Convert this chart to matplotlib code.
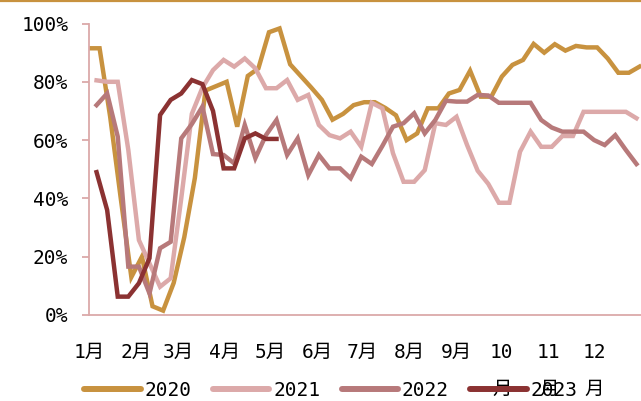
import matplotlib
matplotlib.use("Agg")
import matplotlib.pyplot as plt
from matplotlib.lines import Line2D
import numpy as np

plt.rcParams['font.family'] = ['DejaVu Sans Mono', 'Noto Sans CJK SC']

# ---- data (weekly values, %) ----
years = ["2020", "2021", "2022", "2023"]
start_day = [0, 5, 5, 5]  # day-of-year of first weekly point

v2020 = [91.5, 91.5, 68, 40, 13, 20, 3, 1.5, 11, 26.7, 47, 77, 78.5, 80, 64.6,
         82, 84.6, 97, 98.3, 86, 82, 78, 73.8, 67, 69, 72, 73, 73, 71, 68.5,
         60, 62.3, 70.9, 70.9, 76, 77.2, 83.8, 74.9, 74.9, 81.8, 85.8, 87.5,
         93, 90, 92.9, 90.7, 92.3, 91.8, 91.8, 88, 83.1, 83.1, 85.2]
v2021 = [80.5, 80, 80, 56.6, 25.7, 17.7, 9.7, 12.6, 40, 69, 78, 84, 87.5, 85.2,
         88, 84.6, 77.8, 77.8, 80.6, 73.8, 75.5, 65.2, 61.7, 60.6, 62.9, 57.7,
         72.8, 70.9, 55.5, 45.7, 45.7, 49.7, 65.8, 65.2, 68, 58.3, 49.5, 45,
         38.5, 38.5, 56, 62.9, 57.7, 57.7, 61.4, 61.4, 69.7, 69.7, 69.7, 69.7,
         69.7, 67.5]
v2022 = [72, 76, 61.2, 16.6, 16.6, 7.4, 22.9, 25.1, 60.6, 65.5, 71.5, 55.2,
         54.9, 52, 65.2, 53.8, 61.7, 66.9, 54.9, 60.6, 48, 54.9, 50.3, 50.3,
         46.9, 54.3, 51.8, 58, 64.6, 65.8, 69.2, 62.3, 66.9, 73.5, 73.2, 73.2,
         75.5, 75.3, 72.8, 72.8, 72.8, 72.8, 66.9, 64.3, 62.9, 62.9, 62.9, 60,
         58.3, 61.7, 56.6, 51.8]
v2023 = [49, 36, 6.3, 6.3, 10.9, 19.5, 68.6, 73.8, 76, 80.6, 79.2, 70, 50.3,
         50.3, 60.6, 62.3, 60.4, 60.4]
series = [v2020, v2021, v2022, v2023]
colors = ["#C8923F", "#DCA9A9", "#B7797A", "#8B3232"]

month_start = [0, 31, 59, 90, 120, 151, 181, 212, 243, 273, 304, 334]
month_labels = ["1月", "2月", "3月", "4月", "5月", "6月", "7月", "8月", "9月",
                "10\n月", "11\n月", "12\n月"]
y_ticks = [0, 20, 40, 60, 80, 100]
y_labels = ["0%", "20%", "40%", "60%", "80%", "100%"]

W, H = 641, 401
fig = plt.figure(figsize=(W / 100, H / 100), dpi=100)
ax = fig.add_axes([89 / W, (H - 315) / H, (W - 89) / W, (315 - 23.5) / H])

for name, vals, sd, c in zip(years, series, start_day, colors):
    x = sd + 7 * np.arange(len(vals))
    ax.plot(x, vals, color=c, lw=3.2, label=name, solid_joinstyle='miter')

ax.set_xlim(0, 365)
ax.set_ylim(0, 100)
spine_c = "#DBA9A9"
for s in ["top", "right"]:
    ax.spines[s].set_visible(False)
ax.spines["left"].set_color(spine_c)
ax.spines["bottom"].set_color(spine_c)
ax.spines["left"].set_linewidth(1.3)
ax.spines["bottom"].set_linewidth(1.3)

ax.set_yticks(y_ticks)
ax.set_yticklabels(y_labels)
ax.set_xticks(month_start)
ax.set_xticklabels(month_labels, linespacing=2.2, va='top')
ax.tick_params(axis='y', length=5, width=1.3, color=spine_c, pad=10,
               labelsize=14, labelcolor='black')
ax.tick_params(axis='x', length=0, pad=20, labelsize=14, labelcolor='black')

leg = fig.legend(loc='center', bbox_to_anchor=(331 / W, 1 - 390 / H), ncol=4,
                 frameon=False, fontsize=14, handlelength=2.9,
                 handletextpad=0.2, columnspacing=1.1)
for ln in leg.get_lines():
    ln.set_linewidth(4.3)
    ln.set_solid_capstyle('round')

fig.add_artist(Line2D([0, 1], [1 - 1 / H, 1 - 1 / H], transform=fig.transFigure,
                      color="#C8923F", lw=1.6))

fig.savefig("out.png", dpi=100)
